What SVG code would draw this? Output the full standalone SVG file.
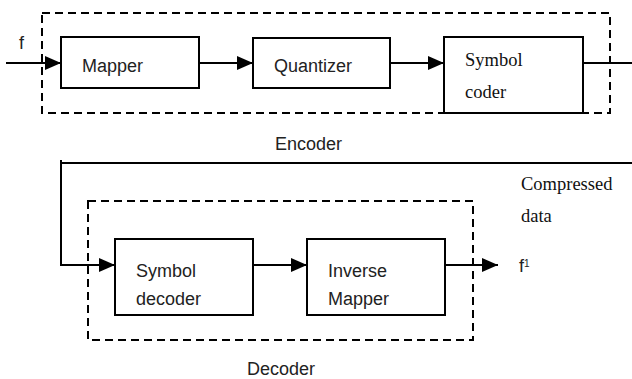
<svg xmlns="http://www.w3.org/2000/svg" width="632" height="379" viewBox="0 0 632 379">
<style>
.box{fill:#fff;stroke:#000;stroke-width:2}
.dash{fill:none;stroke:#000;stroke-width:2;stroke-dasharray:8,5}
.ln{fill:none;stroke:#000;stroke-width:2}
.sans{font-family:"Liberation Sans",Arial,sans-serif;font-size:18px;fill:#222}
.serif{font-family:"Liberation Serif","Times New Roman",serif;font-size:18.5px;fill:#111}
</style>
<defs>
<marker id="ah" markerWidth="16" markerHeight="14" refX="16" refY="7" orient="auto" markerUnits="userSpaceOnUse">
<path d="M0,0 L16,7 L0,14 Z" fill="#000"/>
</marker>
</defs>
<g id="encoder-frame"><rect class="dash" x="42" y="13" width="568" height="100"/></g>
<g id="decoder-frame"><rect class="dash" x="88" y="201" width="385" height="139"/></g>
<g id="mapper"><rect class="box" x="61" y="37" width="138" height="51"/><text class="sans" x="82" y="72">Mapper</text></g>
<g id="quantizer"><rect class="box" x="253" y="38" width="137" height="50"/><text class="sans" x="274" y="72">Quantizer</text></g>
<g id="symbol-coder"><rect class="box" x="444" y="37" width="139" height="76"/><text class="serif" x="465" y="66">Symbol</text><text class="serif" x="465" y="98">coder</text></g>
<g id="symbol-decoder"><rect class="box" x="115" y="239" width="138" height="76"/><text class="sans" x="136" y="277">Symbol</text><text class="sans" x="136" y="305">decoder</text></g>
<g id="inverse-mapper"><rect class="box" x="307" y="239" width="138" height="76"/><text class="sans" x="328" y="277">Inverse</text><text class="sans" x="328" y="305">Mapper</text></g>
<g id="connectors">
<line class="ln" x1="6" y1="63" x2="61" y2="63" marker-end="url(#ah)"/>
<line class="ln" x1="199" y1="63" x2="253" y2="63" marker-end="url(#ah)"/>
<line class="ln" x1="390" y1="63" x2="444" y2="63" marker-end="url(#ah)"/>
<line class="ln" x1="583" y1="63" x2="632" y2="63"/>
<polyline class="ln" points="632,163 61,163"/>
<polyline class="ln" points="61,160 61,265 115,265" marker-end="url(#ah)"/>
<line class="ln" x1="253" y1="265" x2="307" y2="265" marker-end="url(#ah)"/>
<line class="ln" x1="445" y1="265" x2="498" y2="265" marker-end="url(#ah)"/>
</g>
<g id="labels">
<text class="sans" x="19" y="49">f</text>
<text class="sans" x="275" y="150">Encoder</text>
<text class="sans" x="247" y="375">Decoder</text>
<text class="serif" x="521" y="190">Compressed</text>
<text class="serif" x="521" y="222">data</text>
<text class="sans" x="519" y="272">f<tspan font-size="10" dy="-5">1</tspan></text>
</g>
</svg>
